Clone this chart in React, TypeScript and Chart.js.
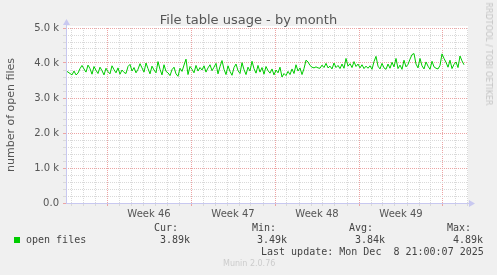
import React, { useEffect, useRef } from "react";
import { Chart, registerables } from "chart.js";
Chart.register(...registerables);

// open files (thousands), one sample every 4 hours
const openFiles: number[] = [
  3.78,3.74,3.70,3.66,3.77,3.66,3.71,3.84,3.93,3.83,3.74,3.94,3.84,3.68,3.90,3.79,3.70,3.88,3.78,3.66,3.85,3.75,3.69,3.92,3.81,3.72,3.86,3.68,3.80,3.73,3.70,3.90,3.96,3.77,3.87,3.72,3.82,3.98,3.86,3.74,4.00,3.84,3.69,3.91,3.80,3.72,4.04,3.82,3.66,3.95,3.76,
  3.72,3.64,3.81,3.88,3.69,3.62,3.85,3.76,3.94,4.11,3.67,3.90,3.82,3.72,3.93,3.77,3.87,3.80,3.92,3.74,3.86,3.95,3.78,3.88,3.99,3.69,3.90,4.07,3.82,3.67,3.92,3.76,3.65,3.87,3.97,3.78,3.70,4.01,3.81,3.67,3.88,3.77,4.05,3.84,3.71,3.93,3.74,3.87,3.68,3.90,
  3.78,3.71,3.83,3.66,3.80,3.72,3.88,3.60,3.70,3.64,3.76,3.67,3.83,3.70,3.95,3.77,3.86,3.67,3.84,4.08,4.03,3.93,3.88,3.86,3.89,3.86,3.85,3.94,3.87,3.99,3.86,3.91,3.83,4.00,3.87,3.93,3.84,3.97,3.85,4.13,3.91,3.98,3.87,4.04,3.90,3.97,3.86,3.95,3.84,3.91,
  3.85,3.92,3.82,4.04,4.19,3.91,3.83,3.99,3.86,3.82,3.97,3.85,4.02,3.89,4.13,3.84,3.94,3.82,4.08,3.89,3.96,4.11,4.24,4.27,3.97,3.86,4.13,3.92,3.83,4.03,3.91,3.82,4.05,3.89,3.85,3.83,3.93,4.26,4.13,4.02,3.88,4.08,3.84,3.96,4.03,3.87,4.20,4.06,3.95,
];
const HOURS_PER_SAMPLE = 4;
const SPAN_DAYS = 33.5;
const FIRST_MONDAY_DAY = 41 / 12; // days from graph start to first Monday 00:00
const weekNumbers: number[] = [46, 47, 48, 49];
const yMax = 5;
const yStep = 0.2;

const legendCur = "3.89k";
const legendMin = "3.49k";
const legendAvg = "3.84k";
const legendMax = "4.89k";
const lastUpdate = "Last update: Mon Dec  8 21:00:07 2025";

const MONO = "'DejaVu Sans Mono', monospace";
const SANS = "'DejaVu Sans', sans-serif";
const AXIS = "#c8c8f0";
const MAJOR = "#eca4a4";
const MINOR = "#d9d9d9";

export default function App() {
  const ref = useRef<HTMLCanvasElement | null>(null);
  useEffect(() => {
    document.body.style.margin = "0";
    const canvas = ref.current!;
    const points = openFiles.map((v, i) => ({ x: (i * HOURS_PER_SAMPLE) / 24, y: v }));
    const mondays: number[] = [];
    for (let d = FIRST_MONDAY_DAY; d <= SPAN_DAYS; d += 7) mondays.push(d);
    const labelPos: Record<string, string> = {};
    weekNumbers.forEach((w, k) => {
      labelPos[(mondays[0] + 3.5 + 7 * k).toFixed(4)] = "Week " + w;
    });
    const isMonday = (v: number) => mondays.some((m) => Math.abs(m - v) < 1e-6);
    const isLabel = (v: number) => labelPos[v.toFixed(4)] !== undefined;

    const bgPlugin = {
      id: "bg",
      beforeDraw(chart: any) {
        const { ctx, chartArea: a } = chart;
        ctx.save();
        ctx.fillStyle = "#ffffff";
        ctx.fillRect(a.left, a.top - 2, a.right - a.left, a.bottom - a.top + 2);
        ctx.restore();
      },
      afterDraw(chart: any) {
        const { ctx, chartArea: a } = chart;
        ctx.save();
        ctx.strokeStyle = AXIS;
        ctx.fillStyle = AXIS;
        ctx.lineWidth = 1;
        ctx.beginPath();
        ctx.moveTo(a.left + 0.5, a.bottom + 0.5);
        ctx.lineTo(a.left + 0.5, a.top - 5);
        ctx.moveTo(a.left, a.bottom + 0.5);
        ctx.lineTo(a.right + 4, a.bottom + 0.5);
        ctx.stroke();
        ctx.beginPath();
        ctx.moveTo(a.left + 0.5, a.top - 9);
        ctx.lineTo(a.left - 3, a.top - 3);
        ctx.lineTo(a.left + 4, a.top - 3);
        ctx.closePath();
        ctx.fill();
        ctx.beginPath();
        ctx.moveTo(a.right + 7, a.bottom + 0.5);
        ctx.lineTo(a.right + 1, a.bottom - 3);
        ctx.lineTo(a.right + 1, a.bottom + 4);
        ctx.closePath();
        ctx.fill();
        ctx.restore();
      },
    };

    const chart = new Chart(canvas, {
      type: "line",
      data: {
        datasets: [
          {
            label: "open files",
            data: points,
            borderColor: "#00cc00",
            borderWidth: 1,
            pointRadius: 0,
            tension: 0,
            fill: false,
          },
        ],
      },
      options: {
        animation: false,
        responsive: false,
        maintainAspectRatio: false,
        layout: { padding: { top: 28, right: 29, left: 0, bottom: 0 } },
        plugins: { legend: { display: false }, tooltip: { enabled: false }, title: { display: false } },
        scales: {
          x: {
            type: "linear",
            min: 0,
            max: SPAN_DAYS,
            afterFit(s: any) {
              s.height = 72;
            },
            afterBuildTicks(s: any) {
              const vals: number[] = [];
              for (let d = FIRST_MONDAY_DAY - 3; d <= SPAN_DAYS; d += 1) vals.push(d);
              Object.keys(labelPos).forEach((k) => vals.push(parseFloat(k)));
              vals.sort((p, q) => p - q);
              s.ticks = vals.map((v) => ({ value: v }));
            },
            ticks: {
              autoSkip: false,
              maxRotation: 0,
              padding: 2,
              color: "#555555",
              font: { family: SANS, size: 10 },
              callback: (v: any) => labelPos[Number(v).toFixed(4)] || "",
            },
            grid: {
              tickLength: 3,
              color: (c: any) =>
                isLabel(c.tick.value) ? "rgba(0,0,0,0)" : isMonday(c.tick.value) ? MAJOR : MINOR,
              tickColor: (c: any) =>
                isLabel(c.tick.value) ? "rgba(0,0,0,0)" : isMonday(c.tick.value) ? MAJOR : MINOR,
            },
            border: { display: false, dash: [1, 1] },
          },
          y: {
            min: 0,
            max: yMax,
            afterFit(s: any) {
              s.width = 66;
            },
            ticks: {
              stepSize: yStep,
              autoSkip: false,
              padding: 4,
              color: "#555555",
              font: { family: SANS, size: 10 },
              callback: (v: any) => {
                const n = Number(v);
                if (Math.abs(n - Math.round(n)) > 1e-6) return "";
                return Math.round(n) === 0 ? "0.0" : n.toFixed(1) + " k";
              },
            },
            grid: {
              tickLength: 3,
              color: (c: any) => (Math.abs(c.tick.value - Math.round(c.tick.value)) < 1e-6 ? MAJOR : MINOR),
              tickColor: (c: any) => (Math.abs(c.tick.value - Math.round(c.tick.value)) < 1e-6 ? MAJOR : MINOR),
            },
            border: { display: false, dash: [1, 1] },
          },
        },
      } as any,
      plugins: [bgPlugin],
    });
    return () => chart.destroy();
  }, []);

  const t = (left: number, top: number, text: string, extra: any = {}) => (
    <div
      style={{
        position: "absolute",
        left,
        top,
        fontFamily: MONO,
        fontSize: 10,
        lineHeight: "12px",
        color: "#444444",
        whiteSpace: "pre",
        ...extra,
      }}
    >
      {text}
    </div>
  );

  return (
    <div style={{ position: "relative", width: 497, height: 275, background: "#f0f0f0", overflow: "hidden" }}>
      <canvas ref={ref} width={497} height={275} style={{ position: "absolute", left: 0, top: 0 }} />
      <div
        style={{
          position: "absolute",
          left: 0,
          width: 497,
          top: 12,
          textAlign: "center",
          fontFamily: SANS,
          fontSize: 13,
          lineHeight: "16px",
          color: "#555555",
        }}
      >
        File table usage - by month
      </div>
      <div
        style={{
          position: "absolute",
          left: 10,
          top: 115,
          transform: "translate(-50%,-50%) rotate(-90deg)",
          fontFamily: SANS,
          fontSize: 11,
          lineHeight: "13px",
          color: "#555555",
          whiteSpace: "nowrap",
        }}
      >
        number of open files
      </div>
      <div
        style={{
          position: "absolute",
          left: 488,
          top: 54,
          transform: "translate(-50%,-50%) rotate(90deg)",
          fontFamily: SANS,
          fontSize: 8,
          lineHeight: "10px",
          color: "#c4c4c4",
          whiteSpace: "nowrap",
        }}
      >
        RRDTOOL / TOBI OETIKER
      </div>
      <div style={{ position: "absolute", left: 14, top: 237, width: 6, height: 6, background: "#00cc00" }} />
      {t(26, 234, "open files")}
      {t(154, 222, "Cur:")}
      {t(160, 234, legendCur)}
      {t(252, 222, "Min:")}
      {t(257, 234, legendMin)}
      {t(349, 222, "Avg:")}
      {t(355, 234, legendAvg)}
      {t(447, 222, "Max:")}
      {t(453, 234, legendMax)}
      {t(261, 246, lastUpdate)}
      <div
        style={{
          position: "absolute",
          left: 223,
          top: 259,
          fontFamily: SANS,
          fontSize: 8,
          lineHeight: "10px",
          color: "#cccccc",
          whiteSpace: "nowrap",
        }}
      >
        Munin 2.0.76
      </div>
    </div>
  );
}
